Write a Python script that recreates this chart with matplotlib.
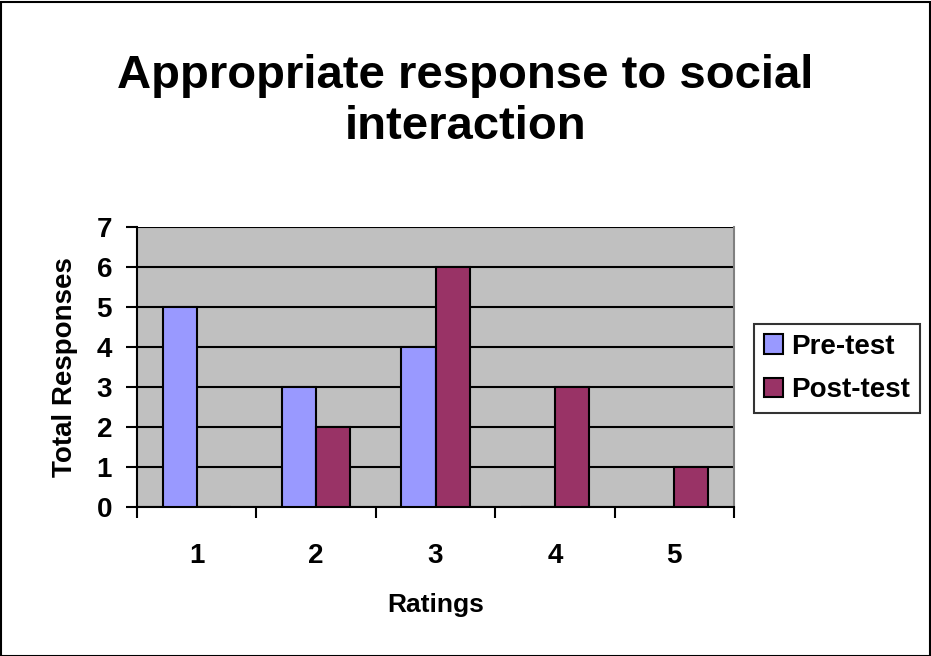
import matplotlib
matplotlib.use("Agg")
import matplotlib.pyplot as plt
import numpy as np
from matplotlib.patches import Rectangle

plt.rcParams['font.family'] = ['Liberation Sans', 'DejaVu Sans']
plt.rcParams['font.weight'] = 'bold'

categories = ['1', '2', '3', '4', '5']
pre_test = [5, 3, 4, 0, 0]
post_test = [0, 2, 6, 3, 1]
series_names = ['Pre-test', 'Post-test']
title = 'Appropriate response to social\ninteraction'

W, H = 931, 656
fig = plt.figure(figsize=(W / 100, H / 100), dpi=100)
fig.patch.set_facecolor('white')

ax = fig.add_axes([137 / W, 1 - 507 / H, (734 - 137) / W, (507 - 227) / H])
ax.set_facecolor('#C0C0C0')

x = np.arange(len(categories))
w = 1 / 3.5
ax.bar(x - w / 2, pre_test, width=w, color='#9999FF', edgecolor='black', linewidth=1.5, zorder=3)
ax.bar(x + w / 2, post_test, width=w, color='#993366', edgecolor='black', linewidth=1.5, zorder=3)

ax.set_xlim(-0.5, len(categories) - 0.5)
ax.set_ylim(0, 7)
ax.set_yticks(range(0, 8))
ax.yaxis.grid(True, color='black', linewidth=1.5, zorder=1)
ax.set_axisbelow(True)

ax.set_xticks(np.arange(-0.5, len(categories), 1.0))
ax.set_xticklabels([])
ax.set_xticks(x, minor=True)
ax.set_xticklabels(categories, minor=True)
ax.tick_params(axis='x', which='major', length=8, width=1.5, direction='out', color='black')
ax.tick_params(axis='x', which='minor', length=0, pad=26, labelsize=20)
ax.tick_params(axis='y', length=8, width=1.5, direction='out', pad=10, labelsize=20)
for lab in ax.get_xticklabels(minor=True) + ax.get_yticklabels():
    lab.set_fontweight('bold')

for s in ['left', 'bottom']:
    ax.spines[s].set_color('black')
    ax.spines[s].set_linewidth(1.5)
ax.spines['right'].set_color('#808080')
ax.spines['right'].set_linewidth(1.5)
ax.spines['top'].set_visible(False)

ax.set_xlabel('Ratings', fontsize=19, fontweight='bold', labelpad=17)
ax.set_ylabel('Total Responses', fontsize=20, fontweight='bold', labelpad=13)

fig.text(0.5, 1 - 139 / H, title, ha='center', va='baseline', fontsize=34,
         fontweight='bold', linespacing=1.2)

leg = fig.legend(series_names, loc='upper left',
                 bbox_to_anchor=(754 / W, 1 - 324 / H), borderaxespad=0,
                 fontsize=20, frameon=True, fancybox=False, edgecolor='black',
                 handlelength=0.7, handleheight=0.7, handletextpad=0.3,
                 labelspacing=0.62, borderpad=0.35, prop={'weight': 'bold', 'size': 20})
leg.get_frame().set_linewidth(1.5)

fig.add_artist(Rectangle((0.5 / W, 0.5 / H), 1 - 2 / W, 1 - 2 / H, transform=fig.transFigure,
                         fill=False, edgecolor='black', linewidth=1.5))

fig.savefig('out.png', dpi=100)
